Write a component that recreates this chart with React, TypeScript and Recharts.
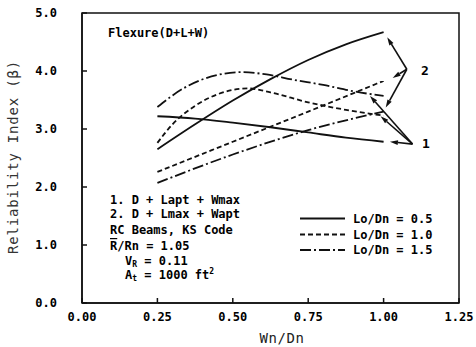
import React from 'react';
import { LineChart, Line, XAxis, YAxis, ReferenceLine, ReferenceArea } from 'recharts';

const xTicks = [0, 0.25, 0.5, 0.75, 1.0, 1.25];
const yTicks = [0, 1, 2, 3, 4, 5];

// Lo/Dn = 0.5 (solid)
const solid1X = [0.25, 0.375, 0.5, 0.625, 0.75, 0.875, 1.0];
const solid1Y = [3.22, 3.18, 3.11, 3.03, 2.94, 2.85, 2.78];
const solid2X = [0.25, 0.375, 0.5, 0.625, 0.75, 0.875, 1.0];
const solid2Y = [2.65, 3.08, 3.49, 3.86, 4.19, 4.46, 4.67];
// Lo/Dn = 1.0 (dashed)
const dash1X = [0.25, 0.3, 0.375, 0.45, 0.55, 0.625, 0.75, 0.875, 1.0];
const dash1Y = [2.76, 3.08, 3.4, 3.6, 3.7, 3.63, 3.46, 3.33, 3.23];
const dash2X = [0.25, 0.5, 0.75, 1.0];
const dash2Y = [2.26, 2.78, 3.3, 3.83];
// Lo/Dn = 1.5 (dash-dot)
const dd1X = [0.25, 0.336, 0.447, 0.53, 0.612, 0.7, 0.8, 0.9, 1.0];
const dd1Y = [3.38, 3.7, 3.93, 3.98, 3.94, 3.85, 3.76, 3.65, 3.57];
const dd2X = [0.25, 0.5, 0.75, 1.0];
const dd2Y = [2.07, 2.56, 2.98, 3.3];

// arrow origins (labels) and targets
const label1 = { x: 1.096, y: 2.74 };
const label2 = { x: 1.077, y: 4.03 };
const targets1 = [
  { x: 1.021, y: 2.78 },
  { x: 0.99, y: 3.22 },
  { x: 0.955, y: 3.57 },
];
const targets2 = [
  { x: 1.012, y: 4.58 },
  { x: 1.03, y: 3.88 },
  { x: 1.007, y: 3.37 },
];

const pts = (xs: number[], ys: number[]) => xs.map((x, i) => ({ x, y: ys[i] }));

const INK = '#111';
const FONT = 'DejaVu Sans Mono';
const DASH = '5 3';
const DASHDOT = '11 3 2 3';
const SW = 1.8;

const ArrowShape = (props: any) => {
  const { x1, y1, x2, y2 } = props;
  if ([x1, y1, x2, y2].some((v) => typeof v !== 'number' || isNaN(v))) return null;
  const ang = Math.atan2(y2 - y1, x2 - x1);
  const L = 8;
  const W = 2.4;
  const bx = x2 - L * Math.cos(ang);
  const by = y2 - L * Math.sin(ang);
  const px = -Math.sin(ang) * W;
  const py = Math.cos(ang) * W;
  return (
    <g>
      <line x1={x1} y1={y1} x2={bx} y2={by} stroke={INK} strokeWidth={1.6} />
      <polygon points={`${x2},${y2} ${bx + px},${by + py} ${bx - px},${by - py}`} fill={INK} />
    </g>
  );
};

export default function App() {
  const tickStyle = { fontFamily: FONT, fontSize: 12, fill: '#000', fontWeight: 'bold' };
  return (
    <div style={{ position: 'absolute', left: 0, top: 0, width: 476, height: 347, background: '#fff' }}>
      <LineChart width={476} height={347} margin={{ top: 13, right: 17, bottom: 0, left: 0 }}>
        <XAxis
          type="number"
          dataKey="x"
          domain={[0, 1.25]}
          ticks={xTicks}
          tickFormatter={(v: number) => v.toFixed(2)}
          height={44}
          tickSize={-5}
          tickMargin={14}
          tick={tickStyle}
          stroke={INK}
          strokeWidth={1.5}
          allowDataOverflow
        />
        <YAxis
          type="number"
          domain={[0, 5]}
          ticks={yTicks}
          tickFormatter={(v: number) => v.toFixed(1)}
          width={82}
          tickSize={-5}
          tickMargin={30}
          tick={tickStyle}
          stroke={INK}
          strokeWidth={1.5}
          allowDataOverflow
        />
        <ReferenceArea x1={0} x2={1.25} y1={0} y2={5} fill="none" stroke={INK} strokeWidth={1.5} />
        <Line data={pts(solid1X, solid1Y)} dataKey="y" type="monotone" stroke={INK} strokeWidth={SW} dot={false} isAnimationActive={false} />
        <Line data={pts(solid2X, solid2Y)} dataKey="y" type="monotone" stroke={INK} strokeWidth={SW} dot={false} isAnimationActive={false} />
        <Line data={pts(dash1X, dash1Y)} dataKey="y" type="monotone" stroke={INK} strokeWidth={SW} strokeDasharray={DASH} dot={false} isAnimationActive={false} />
        <Line data={pts(dash2X, dash2Y)} dataKey="y" type="monotone" stroke={INK} strokeWidth={SW} strokeDasharray={DASH} dot={false} isAnimationActive={false} />
        <Line data={pts(dd1X, dd1Y)} dataKey="y" type="monotone" stroke={INK} strokeWidth={SW} strokeDasharray={DASHDOT} dot={false} isAnimationActive={false} />
        <Line data={pts(dd2X, dd2Y)} dataKey="y" type="monotone" stroke={INK} strokeWidth={SW} strokeDasharray={DASHDOT} dot={false} isAnimationActive={false} />
        {targets1.map((t, i) => (
          <ReferenceLine key={'a1' + i} segment={[label1, t]} shape={ArrowShape} ifOverflow="visible" />
        ))}
        {targets2.map((t, i) => (
          <ReferenceLine key={'a2' + i} segment={[label2, t]} shape={ArrowShape} ifOverflow="visible" />
        ))}
      </LineChart>
      <svg width={476} height={347} style={{ position: 'absolute', left: 0, top: 0, pointerEvents: 'none' }} fontFamily={FONT} fill="#000" fontWeight="bold">
        <text x={108} y={37} fontSize={12}>Flexure(D+L+W)</text>
        <text x={421} y={75} fontSize={13}>2</text>
        <text x={422} y={148} fontSize={13}>1</text>
        <text x={110} y={204} fontSize={12}>1. D + Lapt + Wmax</text>
        <text x={110} y={218} fontSize={12}>2. D + Lmax + Wapt</text>
        <text x={110} y={234} fontSize={12}>RC Beams, KS Code</text>
        <text x={110} y={250} fontSize={12}>
          <tspan textDecoration="overline">R</tspan>/Rn = 1.05
        </text>
        <text x={125} y={265} fontSize={12}>
          V<tspan fontSize={8} dy={2}>R</tspan><tspan dy={-2}> = 0.11</tspan>
        </text>
        <text x={125} y={279} fontSize={12}>
          A<tspan fontSize={8} dy={2}>t</tspan><tspan dy={-2}> = 1000 ft</tspan><tspan fontSize={8} dy={-5}>2</tspan>
        </text>
        <line x1={300} y1={218.5} x2={345} y2={218.5} stroke={INK} strokeWidth={SW} />
        <line x1={300} y1={234.5} x2={345} y2={234.5} stroke={INK} strokeWidth={SW} strokeDasharray={DASH} />
        <line x1={300} y1={250} x2={345} y2={250} stroke={INK} strokeWidth={SW} strokeDasharray={DASHDOT} />
        <text x={353} y={223} fontSize={12}>Lo/Dn = 0.5</text>
        <text x={353} y={239} fontSize={12}>Lo/Dn = 1.0</text>
        <text x={353} y={254} fontSize={12}>Lo/Dn = 1.5</text>
        <text x={282} y={343} fontSize={14} textAnchor="middle" letterSpacing={0.6} fill="#222" fontWeight="normal">Wn/Dn</text>
        <text x={18} y={157} fontSize={14} textAnchor="middle" letterSpacing={0.8} fill="#333" fontWeight="normal" transform="rotate(-90 18 157)">Reliability Index (β)</text>
      </svg>
    </div>
  );
}
